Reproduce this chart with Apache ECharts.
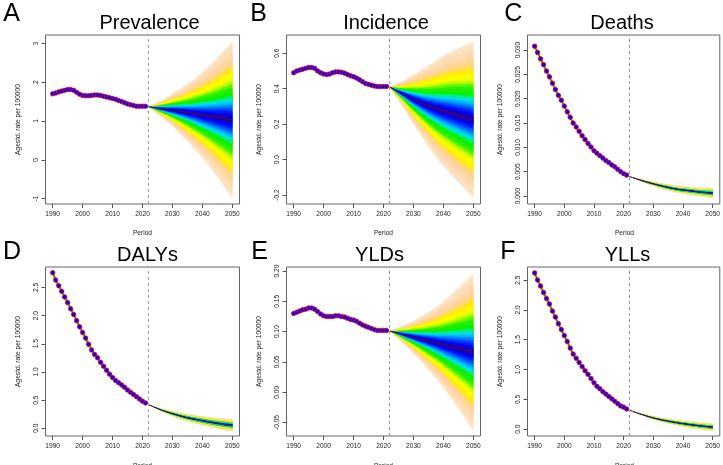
<!DOCTYPE html>
<html>
<head>
<meta charset="utf-8">
<script src="https://cdn.jsdelivr.net/npm/echarts@6/dist/echarts.min.js"></script>
<style>
  html, body { margin: 0; padding: 0; background: #fff; }
  #chart { width: 723px; height: 465px; }
</style>
</head>
<body>
<div id="chart"></div>
<script>
// ---- data ----
var obsStart = 1990;          // observed 1990-2021
var splitYear = 2022;         // projection starts here
var projYears = [2022, 2026, 2030, 2034, 2038, 2042, 2046, 2050];
var xTicks = [1990, 2000, 2010, 2020, 2030, 2040, 2050];

var titles = ['Prevalence', 'Incidence', 'Deaths', 'DALYs', 'YLDs', 'YLLs'];
var letters = ['A', 'B', 'C', 'D', 'E', 'F'];

var obsPrevalence = [1.70,1.72,1.75,1.77,1.79,1.81,1.81,1.79,1.74,1.69,1.66,1.65,1.65,1.66,1.67,1.67,1.66,1.64,1.62,1.60,1.58,1.56,1.53,1.50,1.47,1.44,1.42,1.40,1.38,1.38,1.38,1.38];
var obsIncidence = [0.490,0.500,0.505,0.510,0.515,0.520,0.520,0.515,0.500,0.490,0.483,0.480,0.483,0.490,0.495,0.495,0.493,0.488,0.480,0.473,0.468,0.460,0.450,0.440,0.430,0.425,0.420,0.415,0.413,0.412,0.413,0.413];
var obsDeaths = [0.0308,0.0295,0.0282,0.0270,0.0257,0.0245,0.0232,0.0219,0.0207,0.0197,0.0185,0.0173,0.0162,0.0150,0.0142,0.0133,0.0124,0.0116,0.0108,0.0101,0.0093,0.0088,0.0083,0.0078,0.0073,0.0069,0.0064,0.0060,0.0055,0.0050,0.0046,0.0043];
var obsDALYs = [2.76,2.63,2.53,2.43,2.33,2.23,2.12,2.02,1.91,1.80,1.70,1.60,1.49,1.39,1.31,1.25,1.17,1.10,1.03,0.96,0.90,0.85,0.81,0.77,0.73,0.68,0.64,0.60,0.56,0.52,0.48,0.45];
var obsYLDs = [0.130,0.132,0.134,0.136,0.137,0.139,0.139,0.137,0.133,0.129,0.126,0.125,0.125,0.125,0.126,0.126,0.125,0.124,0.122,0.120,0.119,0.117,0.114,0.111,0.109,0.107,0.105,0.103,0.102,0.102,0.102,0.102];
var obsYLLs = [2.62,2.50,2.40,2.29,2.19,2.10,1.98,1.88,1.77,1.67,1.57,1.47,1.36,1.26,1.19,1.12,1.05,0.98,0.92,0.85,0.78,0.72,0.68,0.63,0.59,0.55,0.51,0.47,0.43,0.39,0.37,0.34];

// projected mean and half-width of the outer interval, at projYears
var meanPrevalence = [1.37,1.32,1.28,1.23,1.18,1.13,1.08,1.03];
var spreadPrevalence = [0,0.20,0.42,0.67,0.95,1.27,1.63,2.02];
var meanIncidence = [0.41,0.375,0.34,0.31,0.285,0.265,0.245,0.225];
var spreadIncidence = [0,0.065,0.14,0.21,0.28,0.34,0.39,0.44];
var meanDeaths = [0.0040,0.0032,0.0025,0.0019,0.0014,0.0011,0.0008,0.0006];
var spreadDeaths = [0,0.00025,0.00045,0.0006,0.0007,0.0008,0.0009,0.0011];
var meanDALYs = [0.42,0.33,0.26,0.20,0.155,0.115,0.08,0.055];
var spreadDALYs = [0,0.025,0.045,0.062,0.076,0.088,0.10,0.11];
var meanYLDs = [0.101,0.096,0.091,0.086,0.081,0.076,0.071,0.066];
var spreadYLDs = [0,0.013,0.027,0.043,0.061,0.082,0.105,0.13];
var meanYLLs = [0.32,0.25,0.19,0.145,0.11,0.08,0.055,0.035];
var spreadYLLs = [0,0.015,0.028,0.038,0.047,0.055,0.061,0.066];

var yTicksPrevalence = [-1, 0, 1, 2, 3];
var yTicksIncidence = [-0.2, 0, 0.2, 0.4, 0.6];
var yTicksDeaths = [0, 0.005, 0.01, 0.015, 0.02, 0.025, 0.03];
var yTicksDALYs = [0, 0.5, 1, 1.5, 2, 2.5];
var yTicksYLDs = [-0.05, 0, 0.05, 0.1, 0.15, 0.2];
var yTicksYLLs = [0, 0.5, 1, 1.5, 2, 2.5];

// ---- fan colour ramp (fraction of half-width from centre -> colour) ----
var rampStops = [0.00, 0.08, 0.16, 0.22, 0.27, 0.31, 0.42, 0.49, 0.54, 0.63, 0.69, 0.78, 1.00];
var rampColors = ['#1e0096', '#0000ff', '#0070ff', '#00c8ff', '#00f0d0', '#00f000', '#30f000',
                  '#c0ff00', '#ffff00', '#fff000', '#ffd870', '#fed5a4', '#fde6cc'];
var bandCount = 26;   // nested bands, outermost drawn first

var panels = [
  { obs: obsPrevalence, mean: meanPrevalence, spread: spreadPrevalence, ticks: yTicksPrevalence, dec: 0, min: -1.137, max: 3.215 },
  { obs: obsIncidence, mean: meanIncidence, spread: spreadIncidence, ticks: yTicksIncidence, dec: 1, min: -0.25, max: 0.703 },
  { obs: obsDeaths, mean: meanDeaths, spread: spreadDeaths, ticks: yTicksDeaths, dec: 3, min: -0.00164, max: 0.0331 },
  { obs: obsDALYs, mean: meanDALYs, spread: spreadDALYs, ticks: yTicksDALYs, dec: 1, min: -0.137, max: 2.862 },
  { obs: obsYLDs, mean: meanYLDs, spread: spreadYLDs, ticks: yTicksYLDs, dec: 2, min: -0.0722, max: 0.2066 },
  { obs: obsYLLs, mean: meanYLLs, spread: spreadYLLs, ticks: yTicksYLLs, dec: 1, min: -0.113, max: 2.719 }
];

// ---- layout ----
var FONT = '"Liberation Sans", Arial, sans-serif';
var gridLeft = [45.5, 286.5, 527.5];
var gridTop = [35, 267];
var gridW = 194, gridH = 169;
var titleX = [149.5, 386, 622, 147.5, 379.5, 627.5];
var titleY = [23, 255];
var letterX = [11.7, 258.5, 513.3, 12, 259.5, 508];
var letterY = [14, 252.5];
var periodY = [233, 466];

function hexRgb(h) {
  return [parseInt(h.substr(1, 2), 16), parseInt(h.substr(3, 2), 16), parseInt(h.substr(5, 2), 16)];
}
function rampColor(f) {
  for (var s = 1; s < rampStops.length; s++) {
    if (f <= rampStops[s]) {
      var a = hexRgb(rampColors[s - 1]), b = hexRgb(rampColors[s]);
      var u = (f - rampStops[s - 1]) / (rampStops[s] - rampStops[s - 1]);
      return 'rgb(' + [0, 1, 2].map(function (c) { return Math.round(a[c] + (b[c] - a[c]) * u); }).join(',') + ')';
    }
  }
  return rampColors[rampColors.length - 1];
}

var grids = [], xAxes = [], yAxes = [], series = [], graphics = [];

panels.forEach(function (p, i) {
  var row = Math.floor(i / 3), col = i % 3;
  grids.push({
    left: gridLeft[col], top: gridTop[row], width: gridW, height: gridH,
    show: true, borderColor: '#666', borderWidth: 1, backgroundColor: 'transparent'
  });
  xAxes.push({
    type: 'value', gridIndex: i, min: 1987.6, max: 2052.4,
    splitLine: { show: false }, axisLine: { show: false, onZero: false },
    axisTick: { show: true, length: 4, lineStyle: { color: '#555' }, customValues: xTicks },
    axisLabel: { customValues: xTicks, fontSize: 6.6, color: '#222', margin: 7, fontFamily: FONT,
                 formatter: function (v) { return String(v); } }
  });
  yAxes.push({
    type: 'value', gridIndex: i, min: p.min, max: p.max,
    splitLine: { show: false }, axisLine: { show: false, onZero: false },
    axisTick: { show: true, length: 4, lineStyle: { color: '#555' }, customValues: p.ticks },
    axisLabel: {
      customValues: p.ticks, rotate: 90, fontSize: 6.6, color: '#222', margin: 6, fontFamily: FONT,
      formatter: (function (d) { return function (v) { return Number(v).toFixed(d); }; })(p.dec)
    },
    name: 'Agestd. rate per 100000', nameLocation: 'middle', nameGap: 24,
    nameTextStyle: { fontSize: 6.6, color: '#222', fontFamily: FONT }
  });

  // fan: nested bands mean ± f*spread, outermost first; each is a transparent base + stacked width
  // (value in column 0 so that y is the stacked dimension)
  for (var b = bandCount; b >= 1; b--) {
    var f = b / bandCount;
    var colr = rampColor((b - 0.5) / bandCount);
    var stackId = 'fan' + i + '_' + b;
    series.push({
      type: 'line', xAxisIndex: i, yAxisIndex: i, stack: stackId, stackStrategy: 'all',
      encode: { x: 1, y: 0 }, smooth: 0.3, symbol: 'none', silent: true, z: 1,
      lineStyle: { width: 0 },
      data: projYears.map((function (ff) {
        return function (y, t) { return [p.mean[t] - ff * p.spread[t], y]; };
      })(f))
    });
    series.push({
      type: 'line', xAxisIndex: i, yAxisIndex: i, stack: stackId, stackStrategy: 'all',
      encode: { x: 1, y: 0 }, smooth: 0.3, symbol: 'none', silent: true, z: 1,
      lineStyle: { width: 0 },
      areaStyle: { color: colr, opacity: 1 },
      data: projYears.map((function (ff) {
        return function (y, t) { return [2 * ff * p.spread[t], y]; };
      })(f))
    });
  }
  // mean projection + split line
  series.push({
    type: 'line', xAxisIndex: i, yAxisIndex: i, smooth: 0.3, symbol: 'none', silent: true, z: 3,
    lineStyle: { color: '#5b0b4b', width: 1 },
    data: projYears.map(function (y, t) { return [y, p.mean[t]]; }),
    markLine: {
      silent: true, symbol: 'none', label: { show: false },
      lineStyle: { type: [3, 3], color: '#a0a0a0', width: 1 },
      data: [{ xAxis: splitYear }]
    }
  });
  // observed
  var obsData = p.obs.map(function (v, t) { return [obsStart + t, v]; });
  series.push({
    type: 'line', xAxisIndex: i, yAxisIndex: i, symbol: 'none', silent: true, z: 4,
    lineStyle: { color: '#f2d24a', width: 3.5, opacity: 0.8 }, data: obsData
  });
  series.push({
    type: 'line', xAxisIndex: i, yAxisIndex: i, symbol: 'none', silent: true, z: 5,
    lineStyle: { color: '#2f6e2a', width: 1.3 }, data: obsData
  });
  series.push({
    type: 'scatter', xAxisIndex: i, yAxisIndex: i, silent: true, z: 6,
    symbol: 'circle', symbolSize: 4.5,
    itemStyle: { color: '#0000ff', borderColor: '#ff0000', borderWidth: 0.8, opacity: 1 },
    data: obsData
  });

  graphics.push({
    type: 'text', x: titleX[i], y: titleY[row],
    style: { text: titles[i], fontSize: 20, fill: '#000', fontFamily: FONT, align: 'center', verticalAlign: 'middle' }
  });
  graphics.push({
    type: 'text', x: letterX[i], y: letterY[row],
    style: { text: letters[i], fontSize: 25, fill: '#000', fontFamily: FONT, align: 'center', verticalAlign: 'middle' }
  });
  graphics.push({
    type: 'text', x: gridLeft[col] + gridW / 2, y: periodY[row],
    style: { text: 'Period', fontSize: 6.6, fill: '#222', fontFamily: FONT, align: 'center', verticalAlign: 'middle' }
  });
});

var myChart = echarts.init(document.getElementById('chart'));
myChart.setOption({
  animation: false,
  backgroundColor: '#fff',
  grid: grids,
  xAxis: xAxes,
  yAxis: yAxes,
  series: series,
  graphic: graphics
});
</script>
</body>
</html>
